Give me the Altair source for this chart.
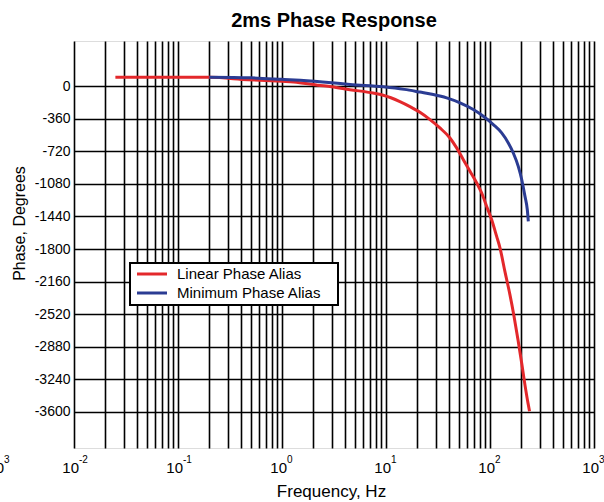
import altair as alt
import pandas as pd

# ---- data ----
linear_freq = [0.025, 0.06, 0.2, 0.47, 1.0, 1.3, 2.2, 3.0, 4.5, 7.5, 9.4, 13.6, 17, 21.2, 26.5, 33.0, 41.2, 47.8, 55.4, 64.2, 74.5, 83.2, 92.9, 103.8, 115.9, 124.7, 139.4, 155.6, 170, 186, 203, 217, 232, 240]
linear_phase = [100, 100, 98, 72, 55, 48, 12, -5, -38, -75, -100, -170, -225, -288, -369, -461, -572, -682, -812, -941, -1070, -1181, -1329, -1477, -1661, -1787, -2053, -2307, -2540, -2806, -3083, -3305, -3504, -3593]
minimum_freq = [0.2, 0.5, 1.0, 1.5, 3, 4.5, 9.4, 15, 21.2, 28.5, 38.3, 51.5, 69.1, 86.2, 107.6, 129.5, 150, 167.5, 187, 202, 217, 228.5, 233.6]
minimum_phase = [100, 93, 76, 65, 38, 19, -7, -35, -65, -92, -129, -184, -258, -332, -424, -516, -627, -738, -886, -1034, -1218, -1366, -1495]

series_names = ["Linear Phase Alias", "Minimum Phase Alias"]
series_colors = ["#e3282b", "#2b3c93"]

decades = [0.01, 0.1, 1, 10, 100, 1000]
decade_bases = ["10", "10", "10", "10", "10", "10"]
decade_exponents = ["-2", "-1", "0", "1", "2", "3"]
y_ticks = list(range(-3600, 1, 360))

W, H = 520, 407

df = pd.concat([
    pd.DataFrame({"freq": linear_freq, "phase": linear_phase, "series": series_names[0]}),
    pd.DataFrame({"freq": minimum_freq, "phase": minimum_phase, "series": series_names[1]}),
])
lab_df = pd.DataFrame({"freq": decades, "base": decade_bases, "exp": decade_exponents})
leg_df = pd.DataFrame({"series": series_names})

x_ticks = [m * d for d in decades[:-1] for m in range(1, 10)] + [decades[-1]]

FONT = "Liberation Sans"

xscale = alt.Scale(type="log", domain=[0.01, 1000], nice=False)
yscale = alt.Scale(domain=[-4000, 500], nice=False, zero=False)
cscale = alt.Scale(domain=series_names, range=series_colors)

lines = alt.Chart(df).mark_line(strokeWidth=3, interpolate="monotone").encode(
    x=alt.X("freq:Q", scale=xscale,
            axis=alt.Axis(values=x_ticks, grid=True, gridColor="black", gridWidth=1.6, gridOpacity=1,
                          ticks=False, domain=False, labels=False,
                          title="Frequency, Hz", titleFontSize=17, titleFontWeight="normal",
                          titleFont=FONT, titleColor="black", titleX=W / 2 - 3, titleY=35,
                          titleBaseline="top")),
    y=alt.Y("phase:Q", scale=yscale,
            axis=alt.Axis(values=y_ticks, grid=True, gridColor="black", gridWidth=1.6, gridOpacity=1,
                          ticks=False, domain=False, labelFontSize=14, labelPadding=4,
                          labelColor="black", labelFont=FONT, labelExpr="'' + datum.value",
                          title="Phase, Degrees", titleFontSize=16, titleFontWeight="normal",
                          titleFont=FONT, titleColor="black",
                          titleX=-55, titleY=182, titleAngle=270, titleAlign="center",
                          titleBaseline="middle")),
    color=alt.Color("series:N", scale=cscale, legend=None),
)

bases = alt.Chart(lab_df).mark_text(fontSize=15, font=FONT, align="right", baseline="alphabetic",
                                    dx=5, color="black").encode(
    x=alt.X("freq:Q", scale=xscale),
    y=alt.value(H + 25),
    text="base:N",
)
exps = alt.Chart(lab_df).mark_text(fontSize=10, font=FONT, align="left", baseline="alphabetic",
                                   dx=5, color="black").encode(
    x=alt.X("freq:Q", scale=xscale),
    y=alt.value(H + 15),
    text="exp:N",
)

# stray "10^3" label visible at the far left edge of the reference image
stray_base = alt.Chart(lab_df.tail(1)).mark_text(fontSize=15, font=FONT, align="right",
                                                 baseline="alphabetic", color="black").encode(
    x=alt.value(-70), y=alt.value(H + 25), text="base:N")
stray_exp = alt.Chart(lab_df.tail(1)).mark_text(fontSize=10, font=FONT, align="left",
                                                baseline="alphabetic", color="black").encode(
    x=alt.value(-70), y=alt.value(H + 15), text="exp:N")

# legend box drawn by hand (manual layout to match the reference)
leg_box = alt.Chart(leg_df.head(1)).mark_rect(fill="white", stroke="black", strokeWidth=2).encode(
    x=alt.value(56), x2=alt.value(264), y=alt.value(222), y2=alt.value(264))

leg_rows = []
for i, name in enumerate(series_names):
    row_y = 233 + 19 * i
    src = alt.Chart(leg_df).transform_filter(alt.datum.series == name)
    leg_rows.append(src.mark_rule(strokeWidth=3).encode(
        x=alt.value(63), x2=alt.value(93), y=alt.value(row_y),
        color=alt.Color("series:N", scale=cscale, legend=None)))
    leg_rows.append(src.mark_text(fontSize=15, font=FONT, align="left", baseline="middle",
                                  color="black").encode(
        x=alt.value(103), y=alt.value(row_y), text="series:N"))

chart = alt.layer(lines, bases, exps, stray_base, stray_exp, leg_box, *leg_rows).properties(
    width=W, height=H,
    title=alt.TitleParams("2ms Phase Response", fontSize=20, fontWeight="bold", font=FONT,
                          color="black", anchor="middle", offset=10, frame="group"),
    autosize=alt.AutoSizeParams(type="none"),
    padding={"left": 74, "top": 41, "right": 10, "bottom": 54},
).configure_view(stroke="black", strokeWidth=2).configure(background="white")

chart.save("out.html", embed_options={"renderer": "svg", "actions": False})
